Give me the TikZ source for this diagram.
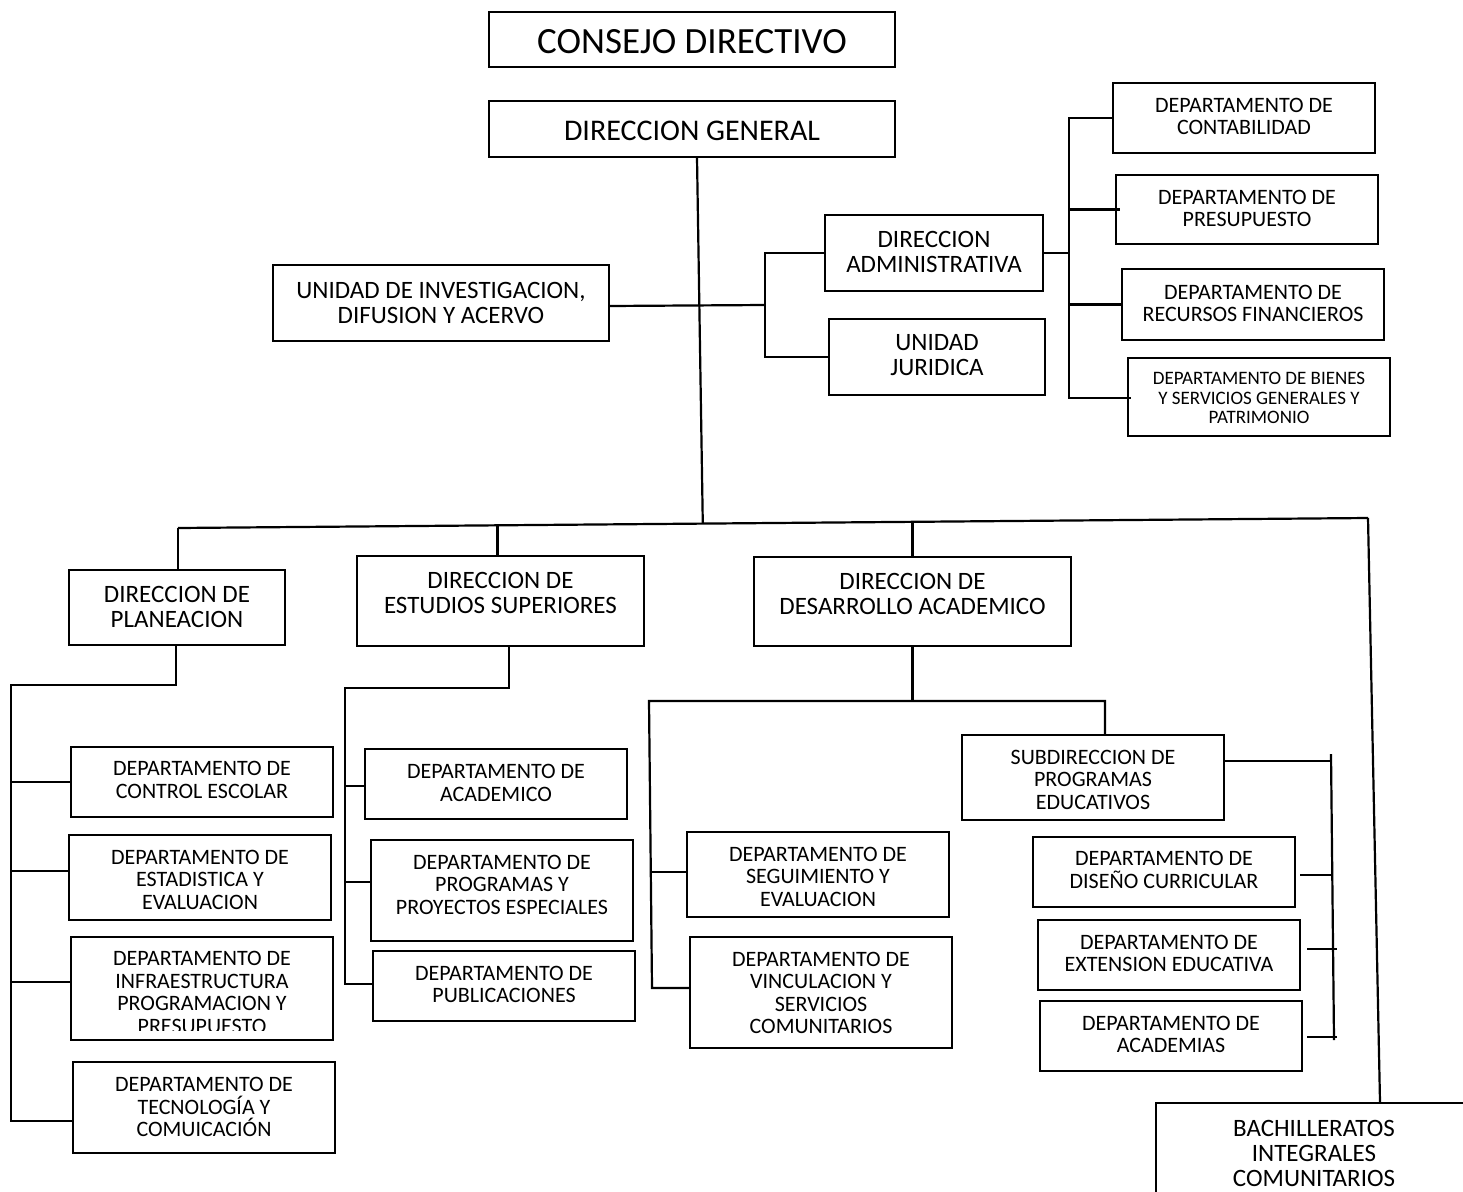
\documentclass[tikz,border=0pt]{standalone}
\usepackage{fontspec}
\setmainfont{Carlito}
\usetikzlibrary{calc}
\newcommand\obox[8]{%
  \node[bx, minimum width={#4-#2}, minimum height={#5-#3}] (#1) at ({(#2+#4)/2},{-(#3+#5)/2}) {};
  \node[#7] (#1t) at ({(#2+#4)/2},{-#6}) {#8};}
\begin{document}
\begin{tikzpicture}[x=1pt,y=1pt,
  bx/.style={draw, line width=1.3pt, inner sep=0pt, rectangle},
  ln/.style={line width=2.2pt},
  tdept/.style={align=center, inner sep=0pt, font=\fontsize{22}{22.5}\selectfont},
  tsmall/.style={align=center, inner sep=0pt, font=\fontsize{19}{19.2}\selectfont},
  tdir/.style={align=center, inner sep=0pt, font=\fontsize{25}{25}\selectfont},
  tgen/.style={align=center, inner sep=0pt, font=\fontsize{30}{30}\selectfont},
  tcon/.style={align=center, inner sep=0pt, font=\fontsize{37}{37}\selectfont}]
\clip (0,0) rectangle (1463,-1191);
\fill[white] (0,0) rectangle (1463,-1191);
% boxes
\obox{consejo}{489}{12}{895}{67}{42}{tcon}{CONSEJO DIRECTIVO}
\obox{dgen}{489}{101}{895}{157}{131}{tgen}{DIRECCION GENERAL}
\obox{unidad}{273}{265}{609}{341}{302.5}{tdir}{UNIDAD DE INVESTIGACION,\\DIFUSION Y ACERVO}
\obox{dadmin}{825}{215}{1043}{291}{251.5}{tdir}{DIRECCION\\ADMINISTRATIVA}
\obox{ujur}{829}{319}{1045}{395}{355.5}{tdir}{UNIDAD\\JURIDICA}
\obox{dcont}{1113}{83}{1375}{153}{116.5}{tdept}{DEPARTAMENTO DE\\CONTABILIDAD}
\obox{dpres}{1116}{175}{1378}{244}{208.5}{tdept}{DEPARTAMENTO DE\\PRESUPUESTO}
\obox{drf}{1122}{269}{1384}{340}{303.5}{tdept}{DEPARTAMENTO DE\\RECURSOS FINANCIEROS}
\obox{dbien}{1128}{358}{1390}{436}{398}{tsmall}{DEPARTAMENTO DE BIENES\\Y SERVICIOS GENERALES Y\\PATRIMONIO}
\obox{dplan}{69}{570}{285}{645}{606.5}{tdir}{DIRECCION DE\\PLANEACION}
\obox{dest}{357}{556}{644}{646}{592.5}{tdir}{DIRECCION DE\\ESTUDIOS SUPERIORES}
\obox{ddes}{754}{557}{1071}{646}{593.5}{tdir}{DIRECCION DE\\DESARROLLO ACADEMICO}
\obox{dce}{71}{747}{333}{817}{780}{tdept}{DEPARTAMENTO DE\\CONTROL ESCOLAR}
\obox{dee}{69}{835}{331}{920}{879.5}{tdept}{DEPARTAMENTO DE\\ESTADISTICA Y\\EVALUACION}
\node[bx, minimum width=262, minimum height=103] (dinf) at (202,-988.5) {};
\begin{scope}
\clip (71,-937) rectangle (333,-1030);
\node[tdept] (dinft) at (202,-992.5) {DEPARTAMENTO DE\\INFRAESTRUCTURA\\PROGRAMACION Y\\PRESUPUESTO};
\end{scope}
\obox{dtec}{73}{1062}{335}{1153}{1107}{tdept}{DEPARTAMENTO DE\\TECNOLOGÍA Y\\COMUICACIÓN}
\obox{dacad}{365}{749}{627}{819}{783}{tdept}{DEPARTAMENTO DE\\ACADEMICO}
\obox{dprog}{371}{840}{633}{941}{884.5}{tdept}{DEPARTAMENTO DE\\PROGRAMAS Y\\PROYECTOS ESPECIALES}
\obox{dpub}{373}{951}{635}{1021}{984.5}{tdept}{DEPARTAMENTO DE\\PUBLICACIONES}
\obox{dseg}{687}{832}{949}{917}{876.5}{tdept}{DEPARTAMENTO DE\\SEGUIMIENTO Y\\EVALUACION}
\obox{dvin}{690}{937}{952}{1048}{993}{tdept}{DEPARTAMENTO DE\\VINCULACION Y\\SERVICIOS\\COMUNITARIOS}
\obox{dsub}{962}{735}{1224}{820}{779.5}{tdept}{SUBDIRECCION DE\\PROGRAMAS\\EDUCATIVOS}
\obox{ddis}{1033}{837}{1295}{907}{870}{tdept}{DEPARTAMENTO DE\\DISEÑO CURRICULAR}
\obox{dext}{1038}{920}{1300}{990}{953.5}{tdept}{DEPARTAMENTO DE\\EXTENSION EDUCATIVA}
\obox{dacm}{1040}{1001}{1302}{1071}{1034.5}{tdept}{DEPARTAMENTO DE\\ACADEMIAS}
\node[bx, minimum width=324, minimum height=127] (dbach) at (1318,-1166.5) {};
\node[tdir] (dbacht) at (1314,-1153) {BACHILLERATOS\\INTEGRALES\\COMUNITARIOS};
% connectors: top
\coordinate (bl) at (178,-528);
\coordinate (br) at (1368,-518);
\coordinate (trk) at ($(bl)!0.441!(br)$);
\draw[ln] ([xshift=5]dgen.south) -- (trk);
\coordinate (ja) at (765,-305);
\draw[ln] ([yshift=-3]unidad.east) -- (ja);
\draw[ln] (dadmin.west) -| (ja) |- (ujur.west);
\coordinate (jb) at (1069,-253);
\draw[ln] (dadmin.east) -- (jb);
\draw[ln] (dcont.west) -| (jb);
\draw[ln] (jb) |- ($(dbien.west)+(4,-1)$);
\draw[ln] (jb |- dpres.west) -- ($(dpres.west)+(5,0)$);
\draw[ln] (jb |- drf.west) -- (drf.west);
% main bar
\draw[ln] (bl) -- (br);
\draw[ln] (bl) -- (bl |- dplan.north);
\coordinate (m2) at ($(bl)!0.268!(br)$);
\draw[ln] ($(dest.north)+(-3,0)$) -- ($(dest.north |- m2)+(-3,0)$);
\coordinate (m3) at ($(bl)!0.618!(br)$);
\draw[ln] (ddes.north) -- (ddes.north |- m3);
\draw[ln] (br) -- ($(dbach.north)+(62,0)$);
% planeacion
\coordinate (pa) at (11,-685);
\coordinate (pb) at (11,-1121);
\draw[ln] ($(dplan.south)+(-1,0)$) |- (pa) -- (pb) -- (pb -| dtec.west);
\draw[ln] (pa |- dce.west) -- (dce.west);
\coordinate (p2) at (11,-871);
\draw[ln] (p2) -- (p2 -| dee.west);
\coordinate (p3) at (11,-982);
\draw[ln] (p3) -- (p3 -| dinf.west);
% estudios superiores
\coordinate (ea) at (345,-688);
\coordinate (eb) at (345,-984);
\draw[ln] ($(dest.south)+(8.5,0)$) |- (ea) -- (eb) -- (eb -| dpub.west);
\coordinate (e1) at (345,-786);
\draw[ln] (e1) -- (e1 -| dacad.west);
\coordinate (e2) at (345,-882);
\draw[ln] (e2) -- (e2 -| dprog.west);
% desarrollo academico
\coordinate (da) at (649,-701);
\coordinate (db) at (1105,-701);
\coordinate (dc) at (652,-988);
\draw[ln] (ddes.south) -- (ddes.south |- da);
\draw[ln] (dc -| dvin.west) -- (dc) -- (da) -- (db) -- (db |- dsub.north);
\coordinate (d1) at (652,-872);
\draw[ln] (d1) -- (d1 -| dseg.west);
% subdireccion
\coordinate (sa) at (1331,-761);
\coordinate (sb) at (1334,-1040);
\draw[ln] ($(dsub.east)+(0,16.5)$) -- (sa);
\draw[ln] ($(sa)+(0,7)$) -- (sb);
\coordinate (t1) at (1332,-875);
\draw[ln] (t1) -- ($(t1 -| ddis.east)+(4,0)$);
\coordinate (t2) at (1337,-949);
\draw[ln] (t2) -- ($(t2 -| dext.east)+(6,0)$);
\coordinate (t3) at (1337,-1037);
\draw[ln] (t3) -- ($(t3 -| dacm.east)+(4,0)$);
\end{tikzpicture}
\end{document}
